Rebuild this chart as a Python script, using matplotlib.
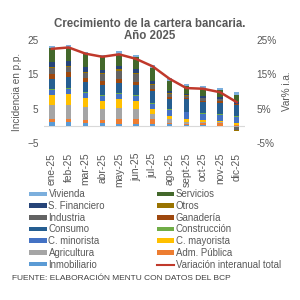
import numpy as np
import matplotlib
matplotlib.use("Agg")
from matplotlib import pyplot as plt
from matplotlib.patches import Patch
from matplotlib.lines import Line2D
from matplotlib.ticker import FuncFormatter

plt.rcParams["font.family"] = ["Liberation Sans", "DejaVu Sans"]

months = ["ene-25", "feb-25", "mar-25", "abr-25", "may-25", "jun-25",
          "jul-25", "ago-25", "sept-25", "oct-25", "nov-25", "dic-25"]

# incidencia en p.p., stacked bottom to top
inmobiliario = [1.0, 1.1, 0.8, 0.7, 0.6, 0.6, 0.6, 0.6, 0.2, 0.2, 0.1, 0.1]
adm_publica = [1.0, 0.9, 1.0, 1.0, 1.4, 1.3, 1.3, 0.3, 0.3, 0.5, 0.8, 0.2]
agricultura = [4.0, 4.2, 3.6, 3.2, 3.3, 3.0, 1.6, 1.2, 0.6, 0.3, 0.1, -0.4]
c_mayorista = [3.0, 3.0, 2.8, 2.4, 2.5, 2.2, 1.4, 0.9, 0.9, 0.6, 0.3, 0.4]
c_minorista = [1.5, 1.6, 1.5, 1.5, 1.6, 1.6, 1.5, 1.6, 1.9, 1.9, 2.0, 1.9]
construccion = [0.2, 0.2, 0.2, 0.2, 0.2, 0.2, 0.2, 0.2, 0.2, 0.2, 0.2, 0.2]
consumo = [3.0, 3.3, 3.0, 3.0, 3.0, 3.0, 3.4, 3.0, 3.7, 3.3, 3.3, 3.2]
ganaderia = [1.3, 1.3, 1.1, 1.0, 1.0, 1.0, 0.7, 0.5, 0.3, 0.3, 0.3, 0.4]
industria = [1.8, 1.6, 1.5, 2.0, 2.5, 2.2, 1.2, 0.9, 0.6, 0.7, 0.6, -0.8]
otros = [0.3, 0.3, 0.3, 0.3, 0.3, 0.4, 0.4, 0.3, 0.2, 0.2, 0.2, -0.3]
s_financiero = [1.4, 1.3, 1.3, 1.0, 1.1, 1.0, 0.8, 0.5, 0.3, 0.4, 0.4, 0.6]
servicios = [4.0, 3.9, 3.7, 3.6, 3.5, 3.4, 3.8, 3.0, 2.4, 2.4, 2.2, 2.0]
vivienda = [0.6, 0.7, 0.6, 0.6, 0.7, 0.6, 0.9, 1.0, 0.5, 0.6, 0.5, 0.8]

# variación interanual total (%)
variacion = [22.4, 22.8, 21.0, 20.1, 20.8, 19.5, 17.3, 13.7, 11.0, 10.8, 9.8, 6.9]

series = [
    ("Inmobiliario", inmobiliario, "#5B9BD5"),
    ("Adm. Pública", adm_publica, "#ED7D31"),
    ("Agricultura", agricultura, "#A5A5A5"),
    ("C. mayorista", c_mayorista, "#FFC000"),
    ("C. minorista", c_minorista, "#4472C4"),
    ("Construcción", construccion, "#70AD47"),
    ("Consumo", consumo, "#255E91"),
    ("Ganadería", ganaderia, "#9E480E"),
    ("Industria", industria, "#636363"),
    ("Otros", otros, "#997300"),
    ("S. Financiero", s_financiero, "#264478"),
    ("Servicios", servicios, "#43682B"),
    ("Vivienda", vivienda, "#7CAFDD"),
]
line_color = "#C0392B"
text_color = "#595959"

fig = plt.figure(figsize=(3, 3), dpi=100)
ax = fig.add_axes([0.145, 0.523, 0.672, 0.344])
x = np.arange(len(months))
pos_bottom = np.zeros(len(months))
neg_bottom = np.zeros(len(months))
for name, values, color in series:
    values = np.array(values)
    bottom = np.where(values >= 0, pos_bottom, neg_bottom)
    ax.bar(x, values, width=0.33, bottom=bottom, color=color, linewidth=0)
    pos_bottom += np.where(values >= 0, values, 0)
    neg_bottom += np.where(values < 0, values, 0)

ax.set_xlim(-0.5, len(months) - 0.5)
ax.set_ylim(-5, 25)
ax.set_yticks([-5, 5, 15, 25])
ax.axhline(0, color="#D9D9D9", linewidth=0.8, zorder=0)
for spine in ax.spines.values():
    spine.set_visible(False)
ax.set_xticks(x)
ax.set_xticklabels(months, rotation=90, fontsize=7.4, color=text_color)
ax.tick_params(axis="both", length=0, labelsize=7.2, labelcolor=text_color)
ax.tick_params(axis="x", pad=7, labelsize=7.4)
ax.set_ylabel("Incidencia en p.p.", fontsize=7.2, color=text_color, labelpad=4)

ax2 = ax.twinx()
ax2.plot(x, variacion, color=line_color, linewidth=1.8)
ax2.set_ylim(-5, 25)
ax2.set_yticks([-5, 5, 15, 25])
ax2.yaxis.set_major_formatter(FuncFormatter(lambda v, _: f"{v:.0f}%"))
for spine in ax2.spines.values():
    spine.set_visible(False)
ax2.tick_params(axis="y", length=0, labelsize=7.2, labelcolor=text_color, pad=8)
ax2.set_ylabel("Var% i.a.", fontsize=7.2, color=text_color, rotation=90, labelpad=4)

fig.text(0.5, 0.9, "Crecimiento de la cartera bancaria.\nAño 2025", ha="center",
         va="center", fontsize=8.3, fontweight="bold", color=text_color,
         linespacing=1.05)

handle_map = {name: Patch(facecolor=color, edgecolor="none") for name, _, color in series}
col1 = ["Vivienda", "S. Financiero", "Industria", "Consumo", "C. minorista",
        "Agricultura", "Inmobiliario"]
col2 = ["Servicios", "Otros", "Ganadería", "Construcción", "C. mayorista",
        "Adm. Pública"]
handles = [handle_map[n] for n in col1] + [handle_map[n] for n in col2]
labels = col1 + col2
handles.append(Line2D([], [], color=line_color, linewidth=1.5))
labels.append("Variación interanual total")
fig.legend(handles, labels, ncol=2, loc="upper left", bbox_to_anchor=(0.085, 0.382),
           frameon=False, fontsize=6.9, labelcolor=text_color, handlelength=1.8,
           handleheight=0.35, handletextpad=0.2, columnspacing=5.4,
           labelspacing=0.18, borderaxespad=0)

fig.text(0.04, 0.07, "FUENTE: ELABORACIÓN MENTU CON DATOS DEL BCP", fontsize=6.0,
         color="#404040", va="center")

fig.savefig("out.png", dpi=100)
